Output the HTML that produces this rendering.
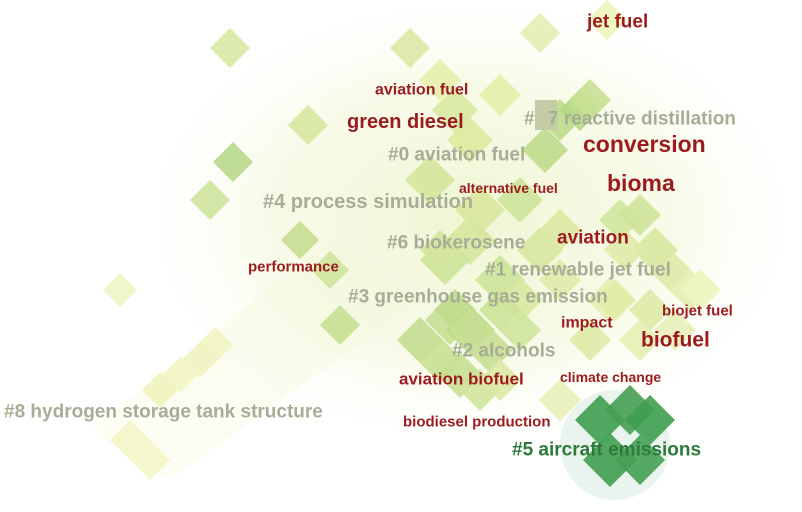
<!DOCTYPE html>
<html><head><meta charset="utf-8"><style>
html,body{margin:0;padding:0;background:#fff;width:802px;height:512px;overflow:hidden}
svg{display:block}
text{font-family:"Liberation Sans",Arial,sans-serif;font-weight:bold;dominant-baseline:central}
.kw{fill:#9b1b1f}
.cl{fill:#a7ad96}
</style></head><body>
<svg id="map" width="802" height="512" viewBox="0 0 802 512">
<defs>
<radialGradient id="blob" cx="0.5" cy="0.5" r="0.5">
<stop offset="0" stop-color="#edf3c8" stop-opacity="0.8"/>
<stop offset="0.6" stop-color="#f4f8dc" stop-opacity="0.6"/>
<stop offset="1" stop-color="#ffffff" stop-opacity="0"/>
</radialGradient>
<linearGradient id="band" x1="0" y1="1" x2="1" y2="0">
<stop offset="0" stop-color="#fdfdf0" stop-opacity="0.6"/>
<stop offset="1" stop-color="#f3f7d8" stop-opacity="0.5"/>
</linearGradient>
</defs>
<ellipse cx="470" cy="220" rx="350" ry="240" fill="url(#blob)"/>
<polygon points="90,430 170,480 420,300 330,240" fill="url(#band)"/>
<circle cx="615" cy="445" r="55" fill="#e3f1ea" opacity="0.8"/>
<g id="nodes"></g>
<rect x="535" y="100" width="22" height="30" fill="#c3cca6"/>
<g id="labels"></g>
</svg>
<script>
const nodeX=[230,410,540,607,308,233,210,300,120,330,440,455,470,500,430,480,520,560,580,545,590,470,445,500,520,540,560,620,640,655,670,690,610,650,675,700,450,470,490,420,440,460,480,500,560,590,615,640,455,470,500,520,560,625,600,630,650,610,640,215,200,180,160,130,150,340,440];
const nodeY=[48,48,33,20,125,162,200,240,290,270,80,110,140,95,180,210,200,120,110,150,100,240,260,280,300,250,230,220,215,250,270,290,300,310,330,290,320,330,350,340,360,375,390,380,400,340,300,340,310,330,310,330,280,250,420,410,420,460,460,345,360,375,390,440,460,325,250];
const nodeR=[20,20,20,20,20,20,20,19,17,19,21,23,23,21,25,25,23,21,21,23,21,25,25,25,23,23,21,21,21,23,21,21,23,21,21,21,25,25,23,23,23,23,21,21,21,21,21,21,21,21,21,21,21,21,25,25,25,27,25,18,18,18,18,20,20,20,20];
const nodeC=["#d8e8a4","#dce9a6","#e2eeb2","#eef5b8","#d6e7a0","#b9d98c","#cfe39c","#c6df94","#eef4c4","#cfe39c","#e3efac","#d8e9a0","#dcea9e","#e4eea8","#d4e69c","#d9e8a0","#cde39a","#bcdb8a","#b6d886","#bfdc8c","#c8e094","#d6e79e","#cde39a","#cde39a","#d8e8a0","#d6e79e","#dbe9a2","#d0e49c","#cde39a","#d6e79e","#dde9a6","#e4eeb2","#e6efb4","#dde9a6","#e8f0b8","#edf4be","#c6df94","#bedb8c","#c6df94","#c2dd90","#c8e094","#c6df94","#d2e59c","#dde9a6","#e8f0b8","#dfeaa8","#e2eca8","#e6efb4","#bfdc8c","#c6df94","#cbe298","#d0e49c","#dfeaa8","#dfeaa8","#3f9e4f","#469f52","#3f9e4f","#409e50","#46a055","#f2f5c4","#f0f4c0","#f2f5c4","#eff4bf","#f3f6c6","#f4f7c8","#c8e094","#d4e69c"];
const labelText=["jet fuel","aviation fuel","green diesel","#","7 reactive distillation","conversion","#0 aviation fuel","bioma","alternative fuel","#4 process simulation","aviation","#6 biokerosene","performance","#1 renewable jet fuel","#3 greenhouse gas emission","biojet fuel","impact","biofuel","#2 alcohols","aviation biofuel","climate change","#8 hydrogen storage tank structure","biodiesel production","#5 aircraft emissions"];
const labelX=[587,375,347,524,548,583,388,607,459,263,557,387,248,485,348,662,561,641,452,399,560,4,403,512];
const labelY=[22,90,122,119,119,144,155,183,188,202,238,243,267,270,297,311,323,340,351,379,377,412,422,450];
const labelS=[19,16,20,19,19,23,19,23,14,20,19,19,15,19,19,15,16,21,19,17,14,19,15,19];
const labelK=["kw","kw","kw","cl","cl","kw","cl","kw","kw","cl","kw","cl","kw","cl","cl","kw","kw","kw","cl","kw","kw","cl","kw","c5"];
const NS="http://www.w3.org/2000/svg";
const ng=document.getElementById('nodes');
for(let i=0;i<nodeX.length;i++){
  const p=document.createElementNS(NS,'polygon');
  const x=nodeX[i],y=nodeY[i],r=nodeR[i];
  p.setAttribute('points',`${x},${y-r} ${x+r},${y} ${x},${y+r} ${x-r},${y}`);
  p.setAttribute('fill',nodeC[i]);
  p.setAttribute('opacity','0.9');
  
  
  ng.appendChild(p);
}
const lg=document.getElementById('labels');
for(let i=0;i<labelText.length;i++){
  const t=document.createElementNS(NS,'text');
  t.setAttribute('x',labelX[i]);t.setAttribute('y',labelY[i]);
  t.setAttribute('font-size',labelS[i]);
  if(labelK[i]==='c5'){t.setAttribute('fill','#2e7a3c');}else{t.setAttribute('class',labelK[i]);}
  t.textContent=labelText[i];
  
  
  lg.appendChild(t);
}
</script>
</body></html>
